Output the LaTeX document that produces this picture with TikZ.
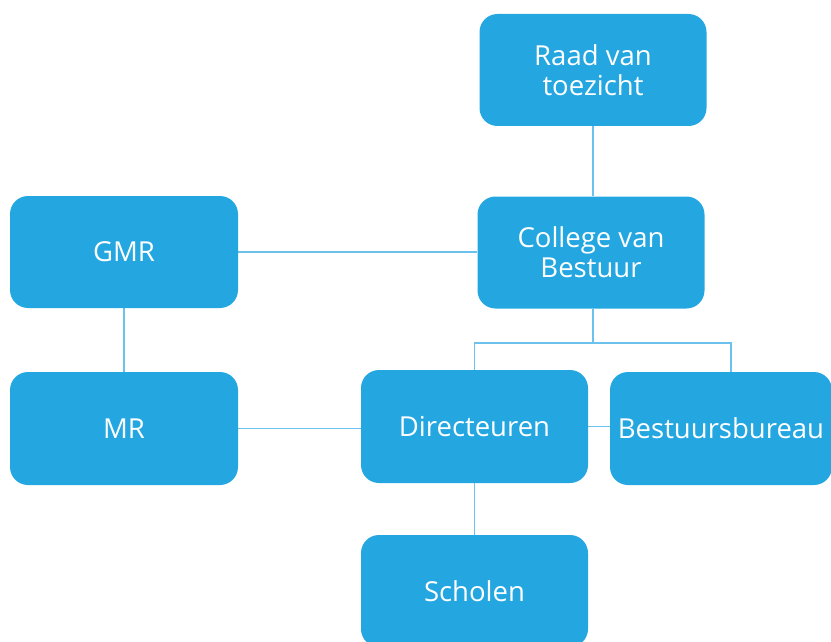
\documentclass[tikz,border=0pt]{standalone}
\usepackage{fontspec}
\setmainfont{Open Sans}
\usetikzlibrary{backgrounds}
\definecolor{boxblue}{HTML}{24A7E1}
\definecolor{lineblue}{HTML}{6CC2EC}
\tikzset{
  orgbox/.style={rectangle, rounded corners=18pt, fill=boxblue, text=white,
    minimum width=227pt, minimum height=112pt, inner sep=0pt, align=center,
    font=\fontsize{27.5}{30}\selectfont},
  conn/.style={draw=lineblue, line width=1.5pt}
}
\begin{document}
\begin{tikzpicture}[x=1pt,y=-1pt]
\useasboundingbox (0,0) rectangle (831,642);
\node[orgbox] (raad) at (593,70) {Raad van\\toezicht};
\node[orgbox] (college) at (591,252.5) {College van\\Bestuur};
\node[orgbox, minimum width=228pt] (gmr) at (124,252) {GMR};
\node[orgbox, minimum width=228pt, minimum height=113pt] (mr) at (124,428.5) {MR};
\node[orgbox, minimum height=113pt] (dir) at (474.5,426.5) {Directeuren};
\node[orgbox, minimum width=222pt, minimum height=113pt] (bb) at (721,428.5) {Bestuursbureau};
\node[orgbox] (scholen) at (474.5,591) {Scholen};
\coordinate (busC) at (593,343);
\coordinate (busR) at (731,343);
\begin{pgfonlayer}{background}
\draw[conn] (raad.south) -- (raad.south |- college.north);
\draw[conn] (busC |- college.south) -- (busC);
\draw[conn] (dir.north) |- (busR) -- (busR |- bb.north);
\draw[conn] (gmr.east) -- (gmr.east -| college.west);
\draw[conn] (gmr.south) -- (mr.north);
\draw[conn] (mr.east) -- (mr.east -| dir.west);
\draw[conn] (dir.east) -- (dir.east -| bb.west);
\draw[conn] (dir.south) -- (scholen.north);
\end{pgfonlayer}
\end{tikzpicture}
\end{document}
